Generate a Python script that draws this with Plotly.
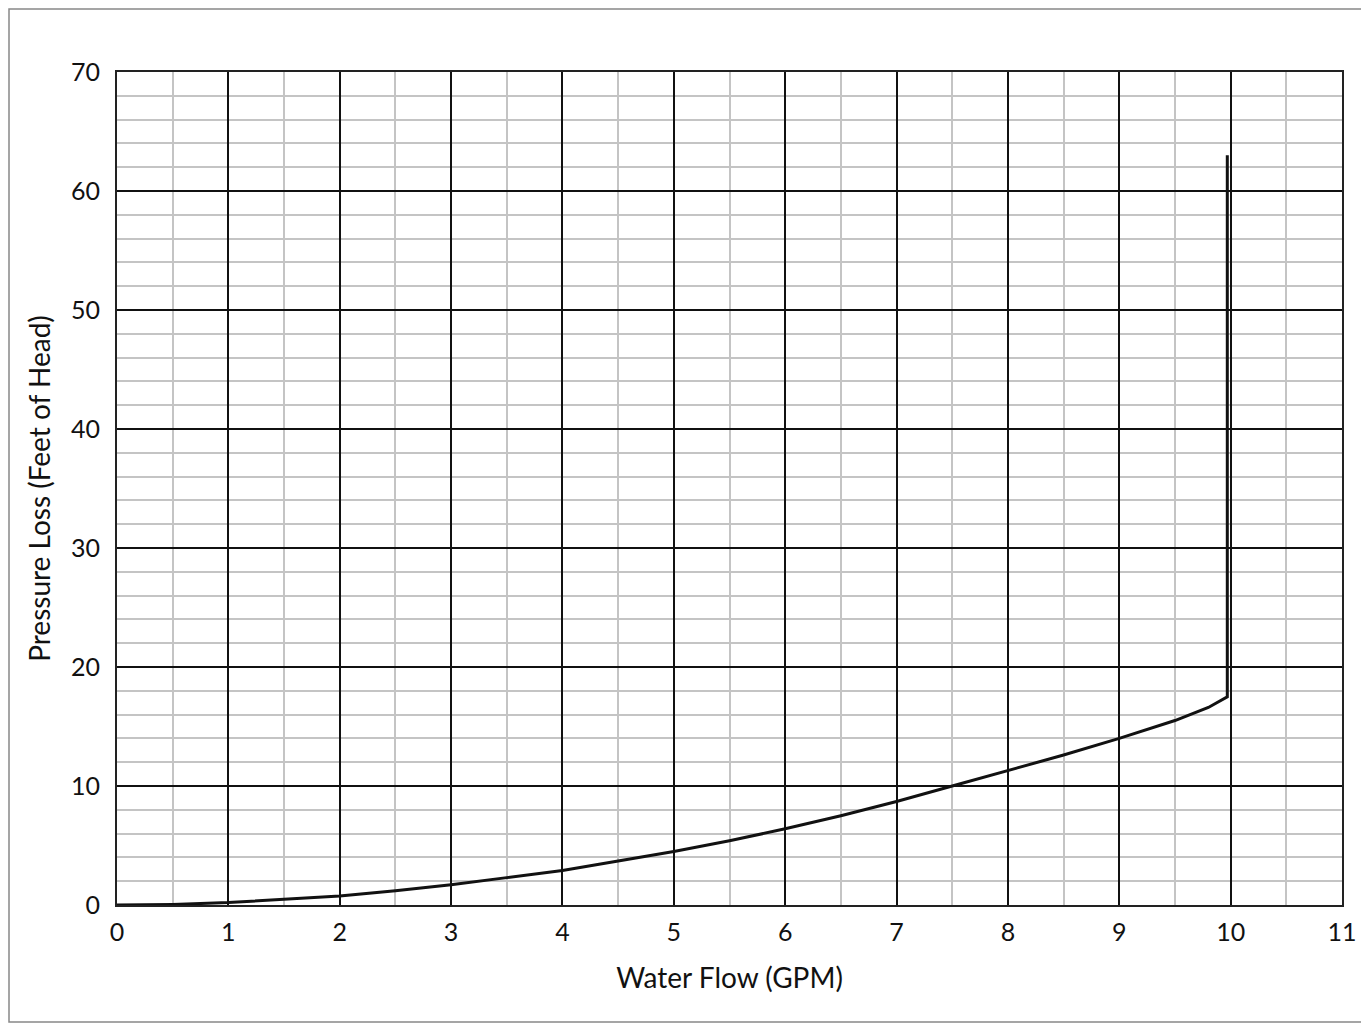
import plotly.graph_objects as go

# Data
flow_gpm = [0, 0.5, 1, 1.5, 2, 2.5, 3, 3.5, 4, 4.5, 5, 5.5, 6, 6.5, 7, 7.5, 8, 8.5, 9, 9.5, 9.8, 9.97, 9.97, 9.97]
pressure_ft = [0, 0.05, 0.2, 0.45, 0.75, 1.2, 1.7, 2.3, 2.9, 3.7, 4.5, 5.4, 6.4, 7.5, 8.7, 10.0, 11.3, 12.6, 14.0, 15.5, 16.6, 17.5, 18.0, 63.0]

x_ticks = list(range(0, 12))
y_ticks = list(range(0, 71, 10))

# page has an 8px body margin, so the figure is shifted by 8px
W, H = 1361, 1015
L, R, T, B = 109, 27, 64, 118
pw, ph = W - L - R, H - T - B

fig = go.Figure()
fig.add_trace(go.Scatter(x=flow_gpm, y=pressure_ft, mode="lines",
                         line=dict(color="#111111", width=3), showlegend=False,
                         hoverinfo="x+y"))

font = "Lato, Open Sans, Liberation Sans, sans-serif"
fig.update_layout(
    width=W, height=H,
    margin=dict(l=L, r=R, t=T, b=B, pad=0),
    paper_bgcolor="white", plot_bgcolor="white",
    font=dict(family=font, size=25, color="#111111"),
    xaxis=dict(range=[0, 11], tickvals=x_ticks, ticktext=[str(v) for v in x_ticks],
               showgrid=True, gridcolor="#111111", gridwidth=2,
               minor=dict(dtick=0.5, tick0=0, showgrid=True, gridcolor="#c4c4c4", gridwidth=2),
               showline=True, linecolor="#222222", linewidth=2, mirror=True,
               zeroline=False, ticks="", ticklabelstandoff=4,
               title=dict(text="Water Flow (GPM)", standoff=23, font=dict(size=28))),
    yaxis=dict(range=[0, 70], tickvals=y_ticks, ticktext=[str(v) for v in y_ticks],
               showgrid=True, gridcolor="#111111", gridwidth=2,
               minor=dict(dtick=2, tick0=0, showgrid=True, gridcolor="#c4c4c4", gridwidth=2),
               showline=True, linecolor="#222222", linewidth=2, mirror=True,
               zeroline=False, ticks="", ticklabelstandoff=10,
               title=dict(text="Pressure Loss (Feet of Head)", standoff=12, font=dict(size=28))),
    shapes=[dict(type="rect", xref="paper", yref="paper",
                 x0=(-L + 1) / pw, x1=(W - L - 1) / pw,
                 y0=(-B + 1) / ph, y1=(H - B - 1) / ph,
                 line=dict(color="#888888", width=1.5), fillcolor="rgba(0,0,0,0)",
                 layer="below")],
)

fig.write_html("out.html")
